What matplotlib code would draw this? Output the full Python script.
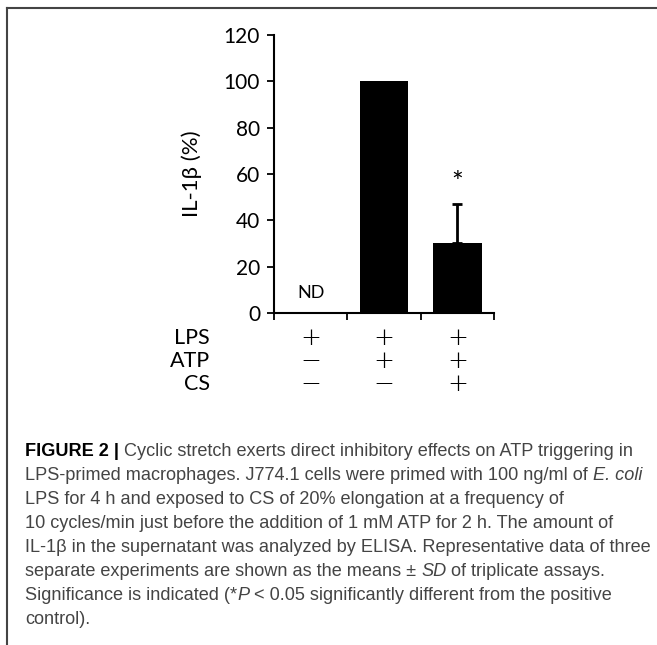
import matplotlib
matplotlib.use("Agg")
import matplotlib.pyplot as plt
from matplotlib.lines import Line2D

# ---- data ----
conditions = ["LPS", "ATP", "CS"]
signs = [["+", "+", "+"],
         ["\u2212", "+", "+"],
         ["\u2212", "\u2212", "+"]]
values = [0, 100, 30.3]
errors_up = [0, 0, 16.7]
labels_on_bars = ["ND", "", "*"]
yticks = [0, 20, 40, 60, 80, 100, 120]
ylabel = "IL-1\u03b2 (%)"

caption = [
    [("FIGURE 2 | ", "bold"), ("Cyclic stretch exerts direct inhibitory effects on ATP triggering in", "normal")],
    [("LPS-primed macrophages. J774.1 cells were primed with 100 ng/ml of ", "normal"), ("E. coli", "italic")],
    [("LPS for 4 h and exposed to CS of 20% elongation at a frequency of", "normal")],
    [("10 cycles/min just before the addition of 1 mM ATP for 2 h. The amount of", "normal")],
    [("IL-1\u03b2 in the supernatant was analyzed by ELISA. Representative data of three", "normal")],
    [("separate experiments are shown as the means \u00b1 ", "normal"), ("SD", "italic"), (" of triplicate assays.", "normal")],
    [("Significance is indicated (*", "normal"), ("P", "italic"), (" < 0.05 significantly different from the positive", "normal")],
    [("control).", "normal")],
]

W, H = 657, 645
fig = plt.figure(figsize=(W / 100, H / 100), dpi=100)
chart_font = "Lato"

ax = fig.add_axes([274 / W, 1 - 313 / H, (494 - 274) / W, (313 - 35) / H])
x = [0.5, 1.5, 2.5]
ax.bar(x, values, width=0.66, color="black", zorder=2)
ax.errorbar(x[2], values[2], yerr=[[0], [errors_up[2]]], fmt="none",
            ecolor="black", elinewidth=2, capsize=3.5, capthick=2, zorder=1)
ax.text(x[0], 8.6, labels_on_bars[0], ha="center", va="center",
        fontsize=13, family=chart_font)
ax.text(x[2], 55.5, labels_on_bars[2], ha="center", va="center",
        fontsize=20, family=chart_font)

ax.set_xlim(0, 3)
ax.set_ylim(0, 120)
ax.set_xticks([0, 1, 2, 3])
ax.set_xticklabels([])
ax.set_yticks(yticks)
ax.set_yticklabels([str(t) for t in yticks], family=chart_font, fontsize=15)
ax.tick_params(axis="both", direction="out", length=5, width=1.3, pad=5)
for s in ["top", "right"]:
    ax.spines[s].set_visible(False)
for s in ["left", "bottom"]:
    ax.spines[s].set_linewidth(1.5)
ax.set_ylabel(ylabel, family=chart_font, fontsize=16, labelpad=16)

# condition rows
row_y = [338, 361, 384]
for r, (name, row) in enumerate(zip(conditions, signs)):
    fig.text(210 / W, 1 - row_y[r] / H, name, ha="right", va="center",
             fontsize=15.5, family=chart_font)
    for c, sgn in enumerate(row):
        xd = ax.transData.transform((x[c], 0))[0] / W
        fig.text(xd, 1 - row_y[r] / H, sgn, ha="center", va="center",
                 fontsize=18, family="DejaVu Sans", fontweight="light")

# frame
fig.add_artist(Line2D([7 / W, 1], [1 - 8 / H, 1 - 8 / H], transform=fig.transFigure,
                      color="#444444", lw=1.5))
fig.add_artist(Line2D([7 / W, 7 / W], [0, 1 - 8 / H], transform=fig.transFigure,
                      color="#444444", lw=1.5))

# caption
fig.canvas.draw()
renderer = fig.canvas.get_renderer()
cap_font = "Liberation Sans"
cap_size = 13.1
for i, line in enumerate(caption):
    xp = 25
    yb = 456 + 24 * i
    for txt, style in line:
        kw = dict(fontsize=cap_size, family=cap_font)
        color = "#444444"
        if style == "bold":
            kw["fontweight"] = "bold"
            color = "black"
        elif style == "italic":
            kw["fontstyle"] = "italic"
        t = fig.text(xp / W, 1 - yb / H, txt, ha="left", va="baseline", color=color, **kw)
        bb = t.get_window_extent(renderer)
        xp += bb.width

fig.savefig("out.png", dpi=100)
